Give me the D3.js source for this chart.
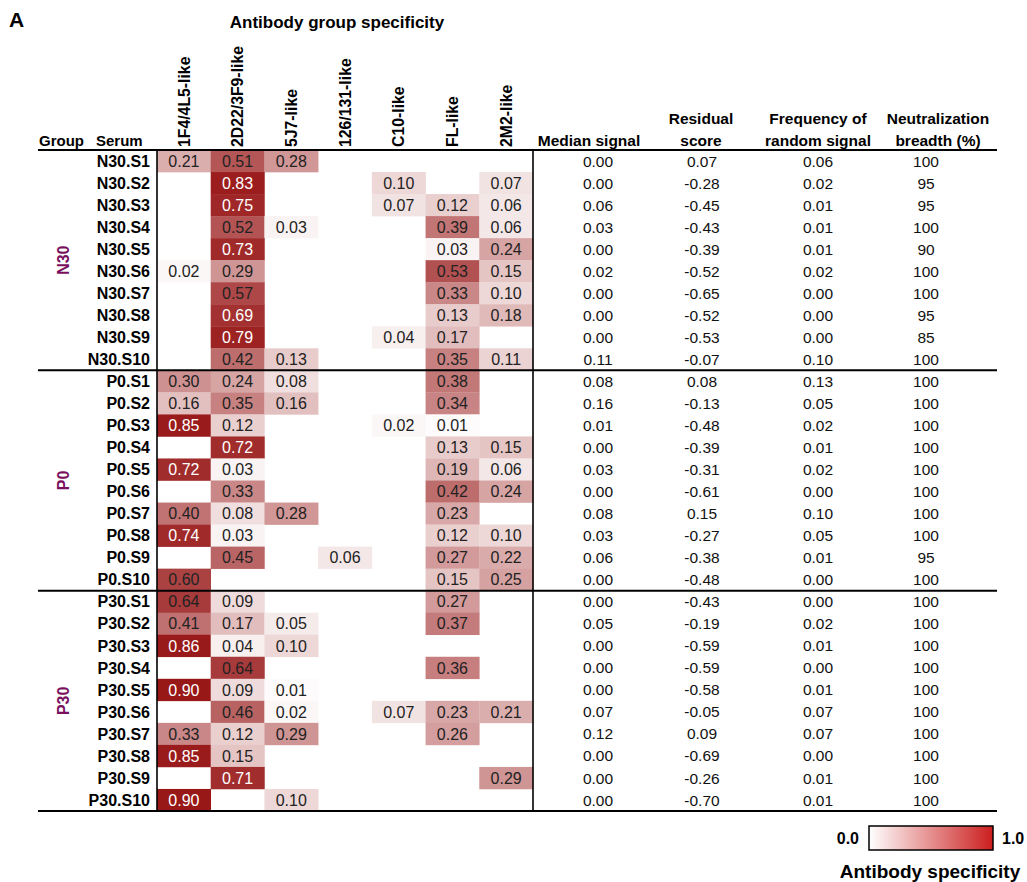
<!DOCTYPE html>
<html>
<head>
<meta charset="utf-8">
<script src="https://cdn.jsdelivr.net/npm/d3@7"></script>
<style>
  html, body { margin: 0; padding: 0; background: #fff; }
  svg { display: block; font-family: "Liberation Sans", Arial, sans-serif; }
</style>
</head>
<body>
<svg id="chart" width="1027" height="882"></svg>
<script>
// ---------------- DATA ----------------
const groups = ["N30", "P0", "P30"];
const seraPerGroup = 10;
const sera = [
  "N30.S1","N30.S2","N30.S3","N30.S4","N30.S5","N30.S6","N30.S7","N30.S8","N30.S9","N30.S10",
  "P0.S1","P0.S2","P0.S3","P0.S4","P0.S5","P0.S6","P0.S7","P0.S8","P0.S9","P0.S10",
  "P30.S1","P30.S2","P30.S3","P30.S4","P30.S5","P30.S6","P30.S7","P30.S8","P30.S9","P30.S10"
];
const specificityGroups = ["1F4/4L5-like","2D22/3F9-like","5J7-like","126/131-like","C10-like","FL-like","2M2-like"];
// one row per serum, one value per antibody group (null = blank cell)
const specificity = [
  [0.21, 0.51, 0.28, null, null, null, null],
  [null, 0.83, null, null, 0.10, null, 0.07],
  [null, 0.75, null, null, 0.07, 0.12, 0.06],
  [null, 0.52, 0.03, null, null, 0.39, 0.06],
  [null, 0.73, null, null, null, 0.03, 0.24],
  [0.02, 0.29, null, null, null, 0.53, 0.15],
  [null, 0.57, null, null, null, 0.33, 0.10],
  [null, 0.69, null, null, null, 0.13, 0.18],
  [null, 0.79, null, null, 0.04, 0.17, null],
  [null, 0.42, 0.13, null, null, 0.35, 0.11],

  [0.30, 0.24, 0.08, null, null, 0.38, null],
  [0.16, 0.35, 0.16, null, null, 0.34, null],
  [0.85, 0.12, null, null, 0.02, 0.01, null],
  [null, 0.72, null, null, null, 0.13, 0.15],
  [0.72, 0.03, null, null, null, 0.19, 0.06],
  [null, 0.33, null, null, null, 0.42, 0.24],
  [0.40, 0.08, 0.28, null, null, 0.23, null],
  [0.74, 0.03, null, null, null, 0.12, 0.10],
  [null, 0.45, null, 0.06, null, 0.27, 0.22],
  [0.60, null, null, null, null, 0.15, 0.25],

  [0.64, 0.09, null, null, null, 0.27, null],
  [0.41, 0.17, 0.05, null, null, 0.37, null],
  [0.86, 0.04, 0.10, null, null, null, null],
  [null, 0.64, null, null, null, 0.36, null],
  [0.90, 0.09, 0.01, null, null, null, null],
  [null, 0.46, 0.02, null, 0.07, 0.23, 0.21],
  [0.33, 0.12, 0.29, null, null, 0.26, null],
  [0.85, 0.15, null, null, null, null, null],
  [null, 0.71, null, null, null, null, 0.29],
  [0.90, null, 0.10, null, null, null, null]
];
const medianSignal = [
  0.00,0.00,0.06,0.03,0.00,0.02,0.00,0.00,0.00,0.11,
  0.08,0.16,0.01,0.00,0.03,0.00,0.08,0.03,0.06,0.00,
  0.00,0.05,0.00,0.00,0.00,0.07,0.12,0.00,0.00,0.00
];
const residualScore = [
  0.07,-0.28,-0.45,-0.43,-0.39,-0.52,-0.65,-0.52,-0.53,-0.07,
  0.08,-0.13,-0.48,-0.39,-0.31,-0.61,0.15,-0.27,-0.38,-0.48,
  -0.43,-0.19,-0.59,-0.59,-0.58,-0.05,0.09,-0.69,-0.26,-0.70
];
const randomSignalFreq = [
  0.06,0.02,0.01,0.01,0.01,0.02,0.00,0.00,0.00,0.10,
  0.13,0.05,0.02,0.01,0.02,0.00,0.10,0.05,0.01,0.00,
  0.00,0.02,0.01,0.00,0.01,0.07,0.07,0.00,0.01,0.01
];
const neutBreadth = [
  100,95,95,100,90,100,100,95,85,100,
  100,100,100,100,100,100,100,100,95,100,
  100,100,100,100,100,100,100,100,100,100
];
const metricNames = ["median","residual","frequency","breadth"];
const metricHeaders = [["Median signal"],["Residual","score"],["Frequency of","random signal"],["Neutralization","breadth (%)"]];
const legendTicks = ["0.0","1.0"];

// ---------------- CHART ----------------
const svg = d3.select("#chart");
const FONT = 16;

const x = d3.scaleBand().domain(specificityGroups).range([157, 533]).padding(0);
const y = d3.scaleBand().domain(sera).range([150, 811]).padding(0);
const mx = d3.scaleOrdinal().domain(metricNames).range([598, 702, 818, 926]);
const mhx = d3.scaleOrdinal().domain(metricNames).range([589, 701, 818, 938]);

const endColor = d3.rgb("#961313");
const color = v => d3.interpolateRgb("#ffffff", endColor)(1 - Math.pow(1 - Math.min(1, v), 1.77));

// panel letter + title
svg.append("text").attr("x", 9).attr("y", 27).attr("font-size", 21).attr("font-weight", "bold").text("A");
svg.append("text").attr("x", 337).attr("y", 28).attr("text-anchor", "middle")
  .attr("font-size", 17).attr("font-weight", "bold").text("Antibody group specificity");

// column headers
svg.append("text").attr("x", 39).attr("y", 146).attr("font-size", 15).attr("font-weight", "bold").text("Group");
svg.append("text").attr("x", 96).attr("y", 146).attr("font-size", 15).attr("font-weight", "bold").text("Serum");
svg.selectAll("text.colhead").data(specificityGroups).join("text")
  .attr("class", "colhead")
  .attr("transform", d => `translate(${x(d) + x.bandwidth() / 2},147) rotate(-90)`)
  .attr("dy", "0.36em").attr("text-anchor", "start")
  .attr("font-size", 15.8).attr("font-weight", "bold").text(d => d);

metricNames.forEach((m, i) => {
  const lines = metricHeaders[i];
  lines.forEach((ln, j) => {
    svg.append("text").attr("x", mhx(m)).attr("y", 146 - (lines.length - 1 - j) * 22)
      .attr("text-anchor", "middle").attr("font-size", 15.5).attr("font-weight", "bold").text(ln);
  });
});

// cells
const cells = [];
sera.forEach((s, i) => specificity[i].forEach((v, j) => {
  if (v !== null) cells.push({ serum: s, col: specificityGroups[j], v });
}));
svg.append("g").selectAll("rect").data(cells).join("rect")
  .attr("x", d => x(d.col)).attr("y", d => y(d.serum))
  .attr("width", x.bandwidth() + 0.3).attr("height", y.bandwidth() + 0.3)
  .attr("fill", d => color(d.v));
svg.append("g").selectAll("text").data(cells).join("text")
  .attr("x", d => x(d.col) + x.bandwidth() / 2).attr("y", d => y(d.serum) + y.bandwidth() / 2)
  .attr("dy", "0.36em").attr("text-anchor", "middle").attr("font-size", FONT)
  .attr("fill", d => d.v >= 0.68 ? "#ffffff" : "#222222")
  .text(d => d.v.toFixed(2));

// row labels
svg.append("g").selectAll("text").data(sera).join("text")
  .attr("x", 150).attr("y", d => y(d) + y.bandwidth() / 2).attr("dy", "0.36em")
  .attr("text-anchor", "end").attr("font-size", FONT).attr("font-weight", "bold").text(d => d);

// group labels
svg.append("g").selectAll("text").data(groups).join("text")
  .attr("transform", (g, i) => {
    const y0 = y(sera[i * seraPerGroup]);
    const y1 = y(sera[i * seraPerGroup + seraPerGroup - 1]) + y.bandwidth();
    return `translate(63,${(y0 + y1) / 2}) rotate(-90)`;
  })
  .attr("dy", "0.36em").attr("text-anchor", "middle").attr("font-size", FONT).attr("font-weight", "bold")
  .attr("fill", "#7a0f5e").text(d => d);

// metric values
const metricData = [medianSignal, residualScore, randomSignalFreq, neutBreadth];
metricNames.forEach((m, k) => {
  svg.append("g").selectAll("text").data(sera).join("text")
    .attr("x", mx(m)).attr("y", d => y(d) + y.bandwidth() / 2).attr("dy", "0.36em")
    .attr("text-anchor", "middle").attr("font-size", 15.5).attr("fill", "#111")
    .text((d, i) => k === 3 ? String(metricData[k][i]) : metricData[k][i].toFixed(2));
});

// rules
const hl = [y.range()[0]];
groups.forEach((g, i) => {
  const last = sera[i * seraPerGroup + seraPerGroup - 1];
  hl.push(y(last) + y.bandwidth());
});
svg.append("g").selectAll("line").data(hl).join("line")
  .attr("x1", 38).attr("x2", 997).attr("y1", d => d).attr("y2", d => d)
  .attr("stroke", "#000").attr("stroke-width", 2);
svg.append("g").selectAll("line").data([x.range()[0], x.range()[1]]).join("line")
  .attr("x1", d => d).attr("x2", d => d).attr("y1", y.range()[0]).attr("y2", y.range()[1])
  .attr("stroke", "#000").attr("stroke-width", 1.6);

// legend
const defs = svg.append("defs");
const grad = defs.append("linearGradient").attr("id", "lg").attr("x1", "0%").attr("x2", "100%");
grad.append("stop").attr("offset", "0%").attr("stop-color", "#ffffff");
grad.append("stop").attr("offset", "100%").attr("stop-color", "#cc1e1e");
const lx = d3.scaleLinear().domain([0, 1]).range([869, 993]);
svg.append("rect").attr("x", lx(0)).attr("y", 826).attr("width", lx(1) - lx(0)).attr("height", 24)
  .attr("fill", "url(#lg)").attr("stroke", "#000").attr("stroke-width", 1.5);
svg.append("text").attr("x", lx(0) - 10).attr("y", 844).attr("text-anchor", "end")
  .attr("font-size", FONT).attr("font-weight", "bold").text(legendTicks[0]);
svg.append("text").attr("x", lx(1) + 9).attr("y", 844).attr("text-anchor", "start")
  .attr("font-size", FONT).attr("font-weight", "bold").text(legendTicks[1]);
svg.append("text").attr("x", 930).attr("y", 878).attr("text-anchor", "middle")
  .attr("font-size", 19).attr("font-weight", "bold").text("Antibody specificity");
</script>
</body>
</html>
